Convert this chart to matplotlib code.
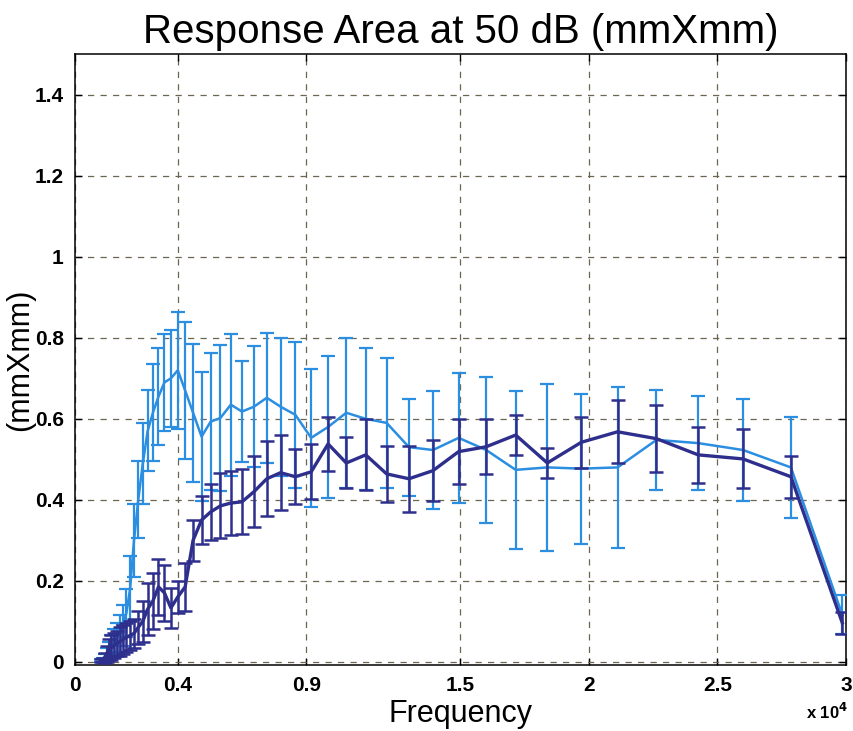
import matplotlib
matplotlib.use('Agg')
import matplotlib.pyplot as plt

# frequency points (Hz)
freqs = [1000, 1072, 1149, 1231, 1320, 1414, 1516, 1625, 1741, 1866,
         2000, 2144, 2297, 2462, 2639, 2828, 3031, 3249, 3482, 3732,
         4000, 4287, 4595, 4925, 5278, 5657, 6063, 6498, 6964, 7464,
         8000, 8574, 9190, 9849, 10556, 11314, 12126, 12996, 13929, 14929,
         16000, 17148, 18379, 19698, 21112, 22627, 24251, 25992, 27858, 29857]

# light blue series
light_mean = [0.003, 0.005, 0.01, 0.02, 0.03, 0.04, 0.05, 0.06, 0.07, 0.09,
              0.12, 0.18, 0.30, 0.40, 0.49, 0.57, 0.615, 0.655, 0.69, 0.70,
              0.72, 0.67, 0.615, 0.556, 0.593, 0.602, 0.635, 0.618, 0.63, 0.652,
              0.63, 0.61, 0.553, 0.58, 0.615, 0.60, 0.59, 0.53, 0.523, 0.553,
              0.523, 0.474, 0.48, 0.477, 0.48, 0.548, 0.54, 0.523, 0.48, 0.116]
light_err = [0.003, 0.005, 0.01, 0.015, 0.02, 0.025, 0.03, 0.035, 0.045, 0.05,
             0.06, 0.08, 0.09, 0.095, 0.10, 0.10, 0.12, 0.12, 0.12, 0.12,
             0.145, 0.17, 0.17, 0.16, 0.17, 0.18, 0.175, 0.125, 0.15, 0.16,
             0.17, 0.18, 0.17, 0.175, 0.185, 0.175, 0.16, 0.12, 0.145, 0.16,
             0.18, 0.195, 0.207, 0.185, 0.198, 0.123, 0.116, 0.126, 0.124, 0.048]

# dark blue series
dark_mean = [0.003, 0.005, 0.01, 0.02, 0.03, 0.035, 0.04, 0.045, 0.05, 0.055,
             0.06, 0.065, 0.07, 0.085, 0.10, 0.13, 0.15, 0.185, 0.17, 0.133,
             0.16, 0.185, 0.30, 0.35, 0.37, 0.385, 0.392, 0.395, 0.42, 0.452,
             0.467, 0.457, 0.469, 0.538, 0.491, 0.511, 0.464, 0.452, 0.472, 0.519,
             0.531, 0.56, 0.491, 0.542, 0.568, 0.551, 0.511, 0.501, 0.457, 0.096]
dark_err = [0.003, 0.005, 0.012, 0.02, 0.025, 0.03, 0.03, 0.03, 0.035, 0.035,
            0.035, 0.035, 0.035, 0.04, 0.05, 0.065, 0.07, 0.07, 0.07, 0.05,
            0.04, 0.06, 0.05, 0.06, 0.07, 0.08, 0.08, 0.08, 0.087, 0.093,
            0.092, 0.068, 0.068, 0.066, 0.063, 0.088, 0.07, 0.082, 0.076, 0.08,
            0.068, 0.05, 0.037, 0.063, 0.078, 0.083, 0.07, 0.073, 0.052, 0.028]

xticks = [0, 4000, 9000, 15000, 20000, 25000, 30000]
xtick_labels = ['0', '0.4', '0.9', '1.5', '2', '2.5', '3']
yticks = [0, 0.2, 0.4, 0.6, 0.8, 1.0, 1.2, 1.4]
ytick_labels = ['0', '0.2', '0.4', '0.6', '0.8', '1', '1.2', '1.4']

plt.rcParams['font.family'] = ['Liberation Sans', 'DejaVu Sans']

fig = plt.figure(figsize=(8.54, 7.31), dpi=100)
ax = fig.add_axes([0.0878, 0.0903, 0.9028, 0.8352])

ax.errorbar(freqs, light_mean, yerr=light_err, color='#2b8ee0', lw=1.8,
            elinewidth=1.6, capsize=5.2, capthick=1.6, zorder=3)
ax.errorbar(freqs, dark_mean, yerr=dark_err, color='#2e2f8c', lw=2.4,
            elinewidth=1.8, capsize=5.2, capthick=1.8, zorder=4)

ax.set_xlim(0, 30000)
ax.set_ylim(-0.008, 1.5)
ax.set_xticks(xticks)
ax.set_xticklabels(xtick_labels)
ax.set_yticks(yticks)
ax.set_yticklabels(ytick_labels)
ax.tick_params(direction='in', top=True, right=True, length=5, width=1,
               labelsize=15, pad=8)
for lab in ax.get_xticklabels() + ax.get_yticklabels():
    lab.set_fontweight('bold')

ax.grid(True, color='#6b6650', linestyle=(0, (5, 5)), linewidth=0.9)
for side in ax.spines.values():
    side.set_linewidth(1.1)

ax.set_title('Response Area at 50 dB (mmXmm)', fontsize=29, pad=8)
ax.set_xlabel('Frequency', fontsize=22)
ax.set_ylabel('(mmXmm)', fontsize=22)
ax.xaxis.set_label_coords(0.5, -0.055)
ax.yaxis.set_label_coords(-0.052, 0.5)
fig.text(0.993, 0.012, r'x 10$^{\mathbf{4}}$', fontsize=12, fontweight='bold',
         ha='right', va='bottom')

fig.savefig('out.png', dpi=100)
